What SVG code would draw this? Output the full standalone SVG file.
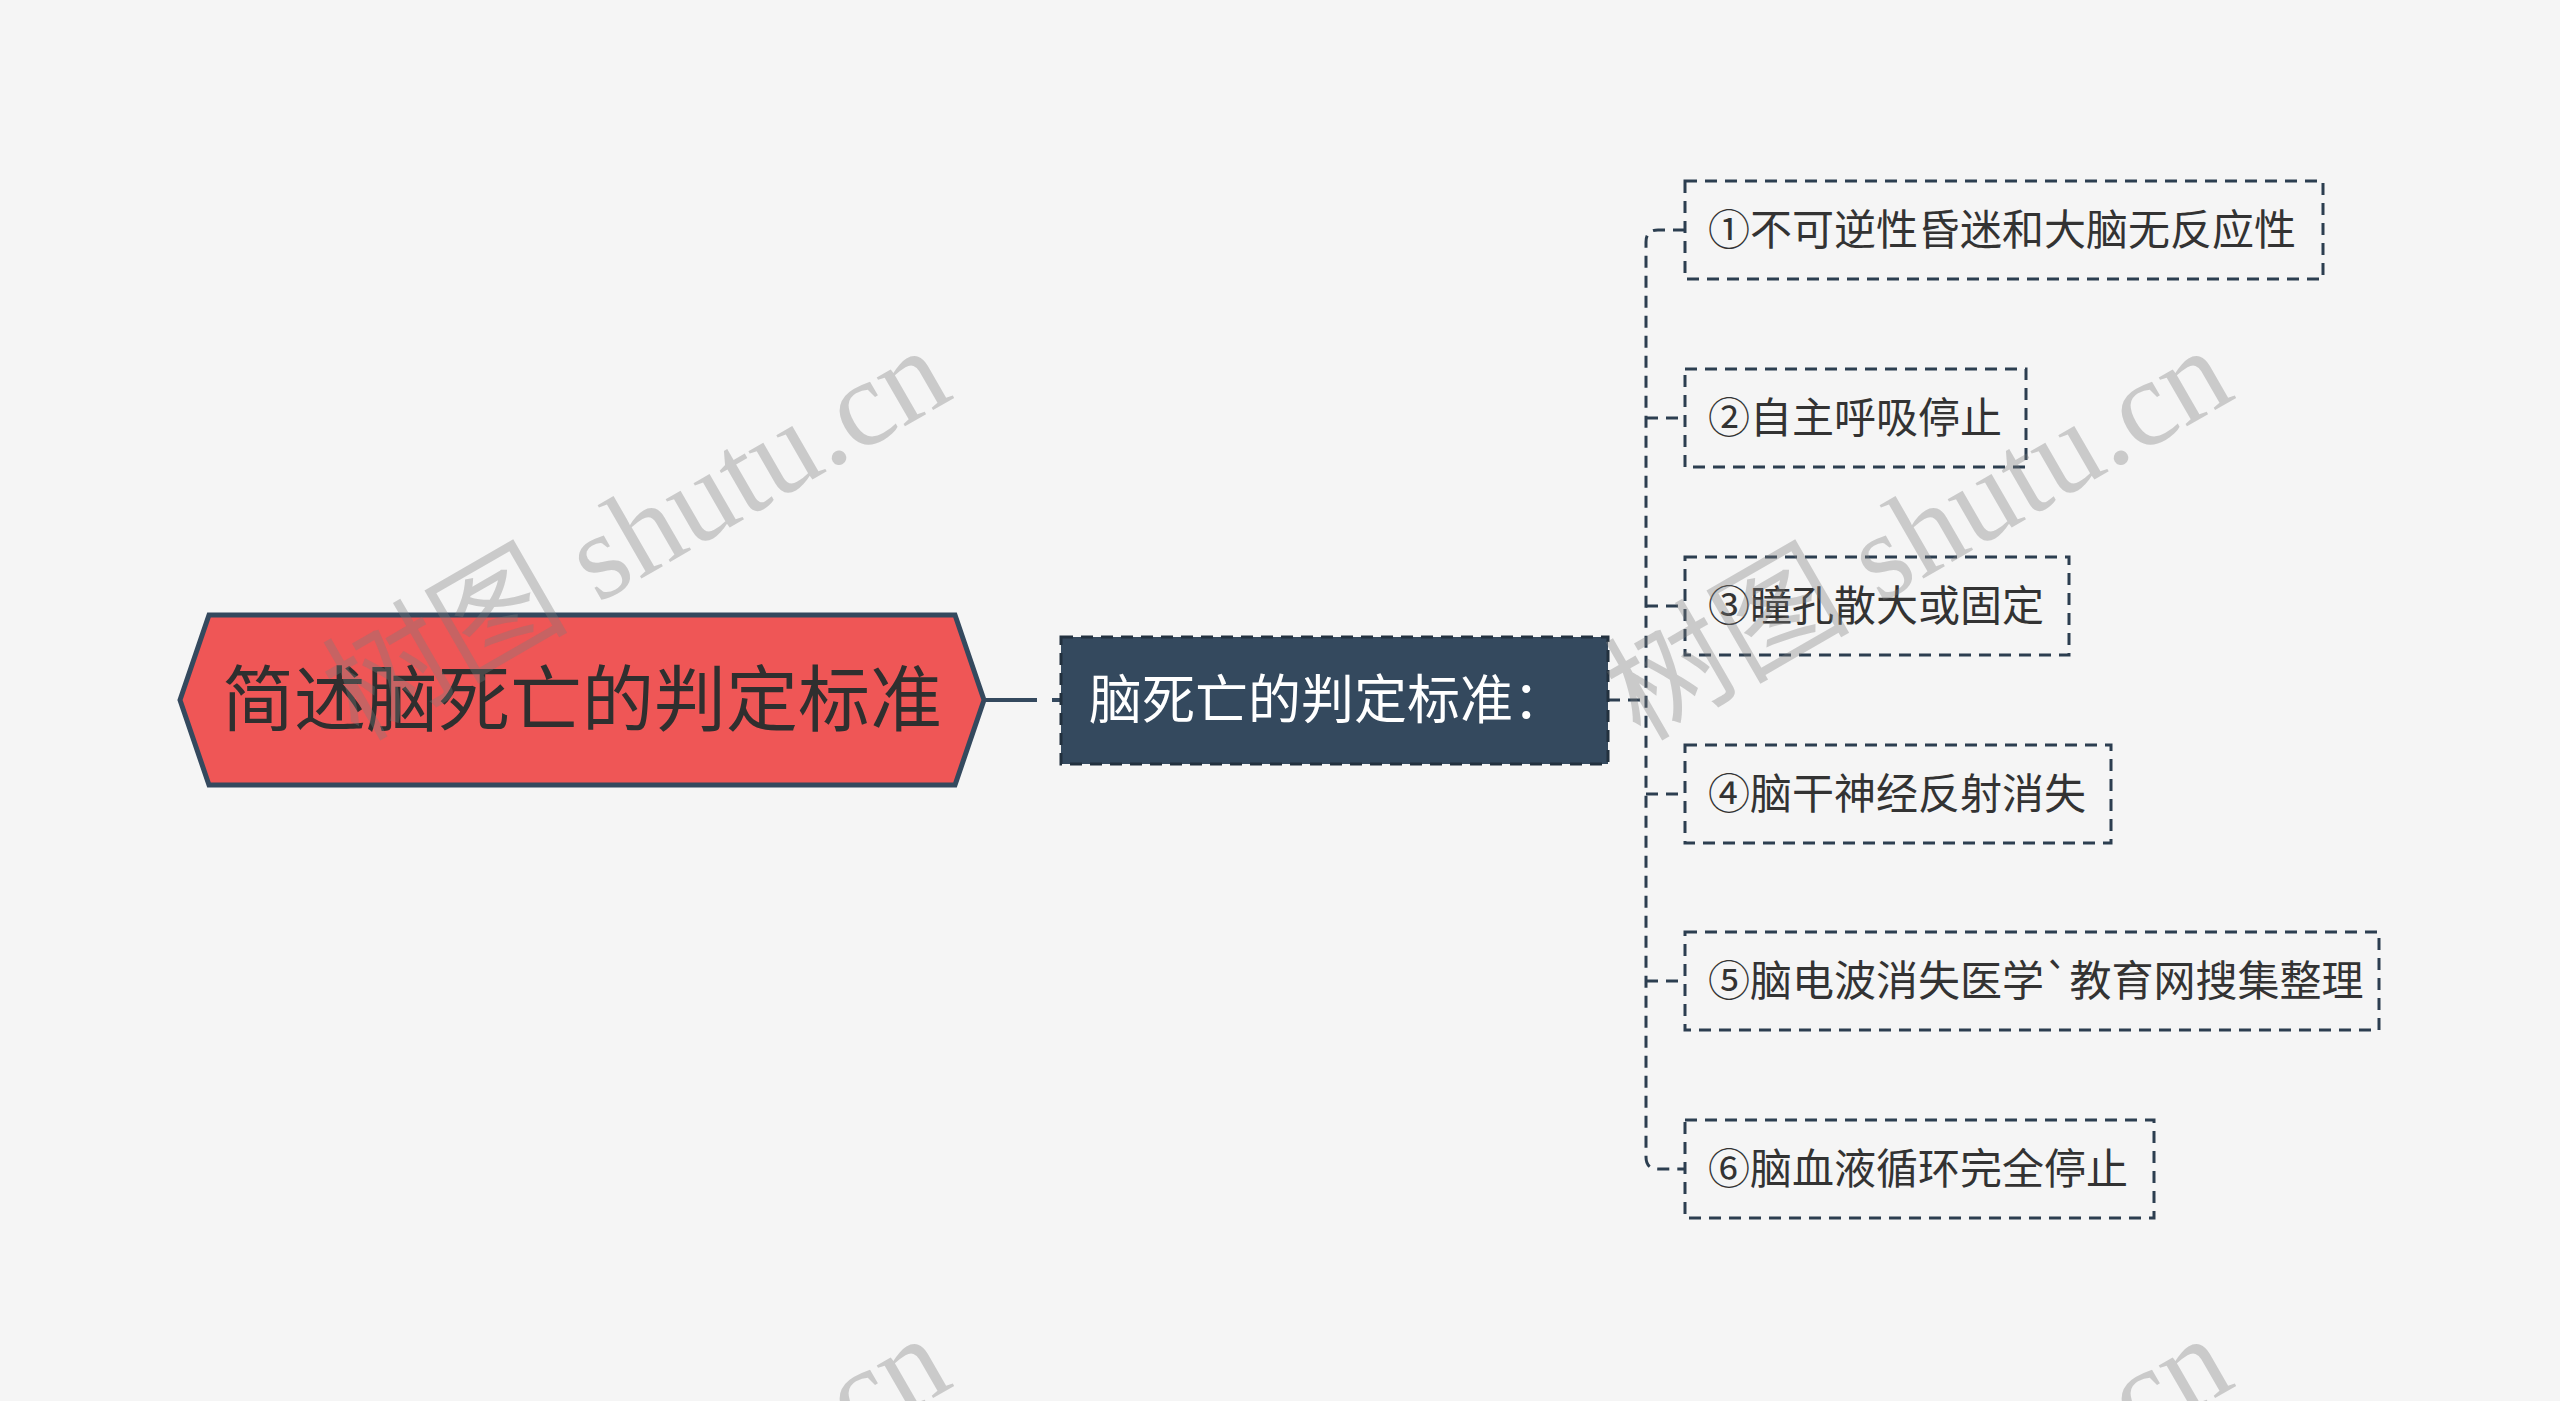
<svg xmlns="http://www.w3.org/2000/svg" width="2560" height="1401" viewBox="0 0 2560 1401">
<style>
.cjk{font-family:"Noto Sans CJK SC","Noto Sans",sans-serif}
.leaf rect{fill:none;stroke:#2c3e50;stroke-width:3;stroke-dasharray:12 8}
.leaf text{font-size:42px;fill:#333333}
.conn{fill:none;stroke:#2c3e50;stroke-width:3;stroke-dasharray:12 8}
.wm{font-family:"Liberation Serif","Noto Sans CJK SC",serif;font-size:123px;fill:#7a7a7a;fill-opacity:0.35}
</style>
<rect x="0" y="0" width="2560" height="1401" fill="#f5f5f5"/>
<g id="connectors">
<path d="M984,700 H1037 M1052,700 H1061" fill="none" stroke="#34495e" stroke-width="4"/>
<path class="conn" d="M1608,700 H1646"/>
<path class="conn" d="M1685,230 H1658 Q1646,230 1646,242 V1157 Q1646,1169 1658,1169 H1685"/>
<path class="conn" d="M1646,418 H1685 M1646,606 H1685 M1646,794 H1685 M1646,981 H1685"/>
</g>
<g id="root">
<polygon points="180,700 209,615 955,615 984,700 955,785 209,785" fill="#ef5656" stroke="#34495e" stroke-width="5" stroke-linejoin="miter"/>
<text class="cjk" x="582" y="725" font-size="72" text-anchor="middle" fill="#2f2f2f">简述脑死亡的判定标准</text>
</g>
<g id="center">
<rect x="1061" y="637" width="547" height="127" fill="#34495e" stroke="#22313f" stroke-width="3" stroke-dasharray="12 8"/>
<text class="cjk" x="1089" y="719" font-size="53" fill="#ffffff">脑死亡的判定标准：</text>
</g>
<g id="leaf1" class="leaf cjk"><rect x="1685" y="181" width="638" height="98"/><text x="1708" y="245">①不可逆性昏迷和大脑无反应性</text></g>
<g id="leaf2" class="leaf cjk"><rect x="1685" y="369" width="341" height="98"/><text x="1708" y="433">②自主呼吸停止</text></g>
<g id="leaf3" class="leaf cjk"><rect x="1685" y="557" width="384" height="98"/><text x="1708" y="621">③瞳孔散大或固定</text></g>
<g id="leaf4" class="leaf cjk"><rect x="1685" y="745" width="426" height="98"/><text x="1708" y="809">④脑干神经反射消失</text></g>
<g id="leaf5" class="leaf cjk"><rect x="1685" y="932" width="694" height="98"/><text x="1708" y="996">⑤脑电波消失医学`教育网搜集整理</text></g>
<g id="leaf6" class="leaf cjk"><rect x="1685" y="1120" width="469" height="98"/><text x="1708" y="1184">⑥脑血液循环完全停止</text></g>
<g id="watermarks">
<text class="wm" transform="translate(358,742) rotate(-30)">树图 shutu.cn</text>
<text class="wm" transform="translate(1640,742) rotate(-30)">树图 shutu.cn</text>
<text class="wm" transform="translate(358,1730) rotate(-30)">树图 shutu.cn</text>
<text class="wm" transform="translate(1640,1730) rotate(-30)">树图 shutu.cn</text>
</g>
</svg>
